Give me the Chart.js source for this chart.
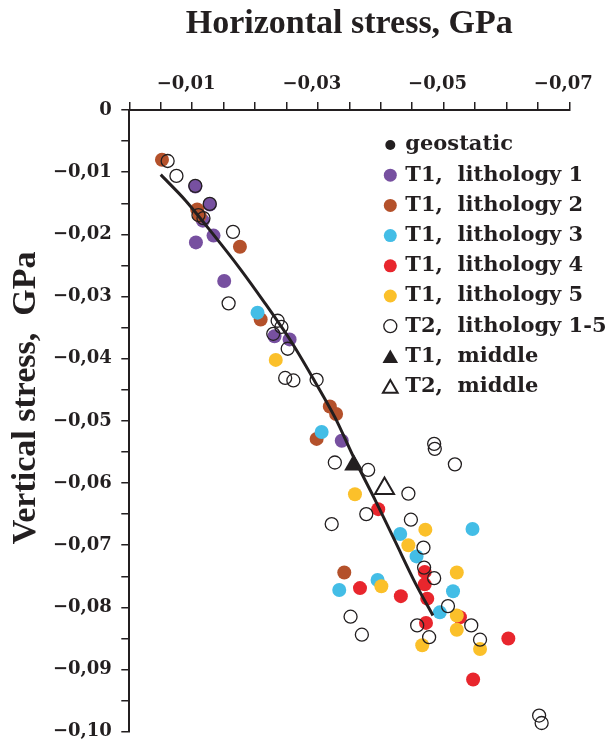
<!DOCTYPE html>
<html>
<head>
<meta charset="utf-8">
<title>Horizontal vs vertical stress</title>
<script src="https://cdn.jsdelivr.net/npm/chart.js@4.4.1/dist/chart.umd.min.js"></script>
<style>
  html, body { margin: 0; padding: 0; background: #fff; }
  #wrap { width: 611px; height: 752px; position: relative; }
</style>
</head>
<body>
<div id="wrap"><canvas id="chart"></canvas></div>
<script>
// values in GPa
const geoX = [-0.0050, -0.0089, -0.0132, -0.0176, -0.0216, -0.0256, -0.0292, -0.0327, -0.0359, -0.0391, -0.0423, -0.0455, -0.0483];
const geoY = [-0.0104, -0.0145, -0.0198, -0.0255, -0.0311, -0.0370, -0.0431, -0.0494, -0.0563, -0.0627, -0.0694, -0.0761, -0.0813];

const lith1X = [-0.0105, -0.0128, -0.0117, -0.0134, -0.0106, -0.0151, -0.0231, -0.0255, -0.0338];
const lith1Y = [-0.0123, -0.0152, -0.0178, -0.0202, -0.0213, -0.0275, -0.0364, -0.0369, -0.0532];

const lith2X = [-0.0052, -0.0108, -0.0112, -0.0176, -0.0209, -0.0319, -0.0329, -0.0298, -0.0342];
const lith2Y = [-0.0080, -0.0160, -0.0170, -0.0220, -0.0337, -0.0477, -0.0489, -0.0529, -0.0744];

const lith3X = [-0.0204, -0.0306, -0.0431, -0.0457, -0.0546, -0.0395, -0.0334, -0.0515, -0.0494];
const lith3Y = [-0.0326, -0.0518, -0.0682, -0.0718, -0.0674, -0.0756, -0.0772, -0.0774, -0.0808];

const lith4X = [-0.0396, -0.0470, -0.0470, -0.0367, -0.0432, -0.0474, -0.0526, -0.0472, -0.0603, -0.0547];
const lith4Y = [-0.0642, -0.0743, -0.0763, -0.0769, -0.0782, -0.0786, -0.0816, -0.0825, -0.0850, -0.0916];

const lith5X = [-0.0233, -0.0359, -0.0471, -0.0444, -0.0521, -0.0401, -0.0521, -0.0521, -0.0466, -0.0558];
const lith5Y = [-0.0402, -0.0618, -0.0675, -0.0700, -0.0744, -0.0766, -0.0813, -0.0836, -0.0861, -0.0867];

const t2X = [-0.0061, -0.0075, -0.0105, -0.0128, -0.0110, -0.0118, -0.0165, -0.0158, -0.0236, -0.0242,
             -0.0229, -0.0252, -0.0248, -0.0261, -0.0298, -0.0327, -0.0380, -0.0485, -0.0486, -0.0518,
             -0.0444, -0.0377, -0.0322, -0.0448, -0.0468, -0.0469, -0.0485, -0.0507, -0.0544, -0.0458,
             -0.0477, -0.0558, -0.0352, -0.0370, -0.0652, -0.0656];
const t2Y = [-0.0082, -0.0106, -0.0122, -0.0151, -0.0169, -0.0174, -0.0196, -0.0311, -0.0339, -0.0349,
             -0.0360, -0.0384, -0.0431, -0.0435, -0.0434, -0.0567, -0.0579, -0.0537, -0.0545, -0.0570,
             -0.0617, -0.0650, -0.0666, -0.0659, -0.0704, -0.0736, -0.0753, -0.0798, -0.0829, -0.0829,
             -0.0848, -0.0852, -0.0815, -0.0844, -0.0974, -0.0986];

const mid1X = [-0.0357], mid1Y = [-0.0571];
const mid2X = [-0.0406], mid2Y = [-0.0609];

const INK = '#231f20';

function pts(xs, ys) {
  return xs.map((x, i) => ({ x: x, y: ys[i] }));
}

function fmt(v) {
  if (Math.abs(v) < 1e-9) return '0';
  return '\u2212' + Math.abs(v).toFixed(2).replace('.', ',');
}

function dots(label, xs, ys, color, order) {
  return {
    label: label, data: pts(xs, ys), order: order,
    pointStyle: 'circle', pointRadius: 7, pointBorderWidth: 0,
    pointBackgroundColor: color, pointBorderColor: color,
    legendRadius: 6.5
  };
}

const datasets = [
  { label: 'geostatic', data: pts(geoX, geoY), order: 0, showLine: true, tension: 0.3,
    borderColor: INK, borderWidth: 3, pointRadius: 0,
    pointStyle: 'circle', pointBackgroundColor: INK, pointBorderColor: INK, pointBorderWidth: 0,
    legendRadius: 5 },
  dots('T1,  lithology 1', lith1X, lith1Y, '#7750a0', 7),
  dots('T1,  lithology 2', lith2X, lith2Y, '#b4512b', 6),
  dots('T1,  lithology 3', lith3X, lith3Y, '#43bde6', 5),
  dots('T1,  lithology 4', lith4X, lith4Y, '#e8262d', 4),
  dots('T1,  lithology 5', lith5X, lith5Y, '#fbc02a', 3),
  { label: 'T2,  lithology 1-5', data: pts(t2X, t2Y), order: 2,
    pointStyle: 'circle', pointRadius: 6.5, pointBorderWidth: 1.3,
    pointBackgroundColor: 'rgba(255,255,255,0)', pointBorderColor: INK, legendRadius: 6.5 },
  { label: 'T1,  middle', data: pts(mid1X, mid1Y), order: 1,
    pointStyle: 'triangle', pointRadius: 11, pointBorderWidth: 0,
    pointBackgroundColor: INK, pointBorderColor: INK, legendRadius: 9 },
  { label: 'T2,  middle', data: pts(mid2X, mid2Y), order: 1,
    pointStyle: 'triangle', pointRadius: 11, pointBorderWidth: 2,
    pointBackgroundColor: '#fff', pointBorderColor: INK, legendRadius: 8.5 }
];

const titleFont = { family: '"Liberation Serif"', size: 34, weight: 'bold', lineHeight: 1.2 };
const tickFont = { family: '"DejaVu Serif"', size: 18, weight: 'bold' };

// legend as a column inside the plot (top right) + the vertical axis title,
// which sits a little above the middle of the axis in the original
const extras = {
  id: 'extras',
  afterDraw(chart) {
    const ctx = chart.ctx;
    const area = chart.chartArea;
    const mx = area.left + 261, tx = area.left + 276;
    ctx.save();
    ctx.font = 'bold 21px "DejaVu Serif"';
    ctx.textBaseline = 'middle';
    chart.data.datasets.forEach((ds, i) => {
      const y = area.top + 35 + i * 30.2;
      ctx.fillStyle = ds.pointBackgroundColor;
      ctx.strokeStyle = ds.pointBorderColor;
      ctx.lineWidth = ds.pointBorderWidth;
      const ty = ds.pointStyle === 'triangle' ? y + 2 : y;
      Chart.helpers.drawPoint(ctx, {
        pointStyle: ds.pointStyle, radius: ds.legendRadius,
        rotation: 0, borderWidth: ds.pointBorderWidth
      }, mx, ty);
      ctx.fillStyle = INK;
      ctx.fillText(ds.label, tx, y);
    });

    ctx.translate(35, (area.top + area.bottom) / 2 - 23);
    ctx.rotate(-Math.PI / 2);
    ctx.font = 'bold 34px "Liberation Serif"';
    ctx.textAlign = 'center';
    ctx.textBaseline = 'alphabetic';
    ctx.fillText('Vertical stress,  GPa', 0, 0);
    ctx.restore();
  }
};

new Chart(document.getElementById('chart'), {
  type: 'scatter',
  data: { datasets: datasets },
  options: {
    responsive: true,
    maintainAspectRatio: false,
    animation: false,
    layout: { padding: { left: 0, top: 0, right: 41.7, bottom: 15 } },
    plugins: { legend: { display: false }, tooltip: { enabled: false } },
    scales: {
      x: {
        type: 'linear', position: 'top', reverse: true, min: -0.07, max: 0,
        title: { display: true, text: 'Horizontal stress, GPa', color: INK, font: titleFont, padding: { top: 4, bottom: 0 } },
        ticks: {
          stepSize: 0.005, autoSkip: false, maxRotation: 0, color: INK, font: tickFont,
          padding: 7, labelOffset: -6,
          callback: v => (Math.round(-v * 1000) % 20 === 10 ? fmt(v) : '')
        },
        grid: { drawOnChartArea: false, drawTicks: true, tickLength: 8, color: INK, lineWidth: 1.5 },
        border: { display: true, color: INK, width: 2 },
        afterFit: s => { s.height = 110; }
      },
      y: {
        type: 'linear', position: 'left', min: -0.1, max: 0,
        ticks: {
          stepSize: 0.005, autoSkip: false, color: INK, font: tickFont, padding: 9.5,
          callback: v => (Math.round(-v * 1000) % 10 === 0 ? fmt(v) : '')
        },
        grid: { drawOnChartArea: false, drawTicks: true, tickLength: 8, color: INK, lineWidth: 1.5 },
        border: { display: true, color: INK, width: 2 },
        afterFit: s => { s.width = 129.3; }
      }
    }
  },
  plugins: [extras]
});
</script>
</body>
</html>
